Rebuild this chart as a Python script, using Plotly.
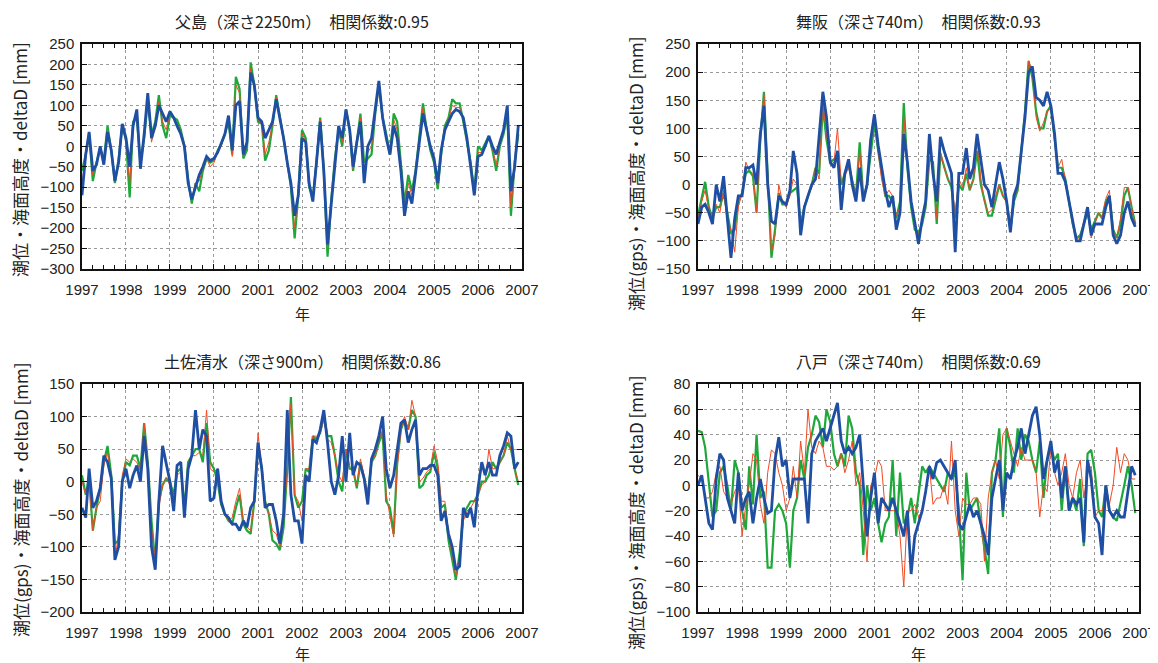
import plotly.graph_objects as go

# ---------------- data (monthly, Jan 1997 - Dec 2006) ----------------
years = list(range(1997, 2007))
months = [f"{y}-{m:02d}-01" for y in years for m in range(1, 13)]

titles = ["父島（深さ2250m）　相関係数:0.95", "舞阪（深さ740m）　相関係数:0.93",
          "土佐清水（深さ900m）　相関係数:0.86", "八戸（深さ740m）　相関係数:0.69"]
ytitles = ["潮位・海面高度・deltaD [mm]", "潮位(gps)・海面高度・deltaD [mm]",
           "潮位(gps)・海面高度・deltaD [mm]", "潮位(gps)・海面高度・deltaD [mm]"]
xtitle = "年"
yranges = [[-300, 250], [-150, 250], [-200, 150], [-100, 80]]
ydticks = [50, 50, 50, 20]

# 父島
chichijima_blue = [-120, -20, 35, -60, -45, 0, -45, 35, -10, -85, -40, 55,
                   20, -50, 50, 90, -55, 30, 130, 20, 50, 100, 80, 60,
                   85, 70, 50, 30, 0, -90, -130, -100, -70, -50, -25, -35,
                   -30, -15, 5, 30, 75, -10, 100, 110, -20, 10, 180, 150,
                   70, 60, 20, 40, 60, 115, 70, 20, -40, -90, -170, -120,
                   20, 10, -90, -135, -40, 60, -60, -240, -140, -40, 50, 20,
                   90, 40, -50, 10, 60, -90, 0, 20, 90, 160, 70, 20,
                   -20, 50, 20, -60, -170, -110, -140, -60, 10, 80, 40, 0,
                   -30, -90, -10, 40, 60, 80, 90, 85, 70, 20, -50, -120,
                   -25, -20, 0, 25, 0, -20, 10, 40, 100, -110, -50, 50]
chichijima_green = [-60, -20, 30, -85, -40, -5, -35, 50, -10, -90, -30, 50,
                    15, -125, 60, 70, -40, 20, 110, 30, 60, 125, 50, 20,
                    75, 70, 65, 40, 0, -80, -140, -90, -110, -60, -30, -40,
                    -35, -10, 5, 30, 60, -20, 170, 140, -30, -10, 205, 150,
                    60, 55, -35, -10, 50, 125, 75, 20, -40, -100, -225, -120,
                    40, 20, -100, -125, -40, 70, -60, -270, -130, -30, 40, 0,
                    90, 40, -60, 10, 80, -40, -30, -20, 80, 150, 70, 30,
                    -20, 80, 60, -50, -140, -70, -110, -60, 20, 105, 40, -10,
                    -40, -105, -20, 50, 70, 115, 105, 105, 60, 10, -40, -110,
                    0, -10, 5, 25, -10, -60, 0, 30, 80, -170, -40, 30]
chichijima_red = [-90, -20, 30, -70, -40, -5, -40, 40, -10, -80, -35, 45,
                  15, -90, 50, 75, -45, 20, 115, 10, 50, 110, 60, 40,
                  80, 65, 55, 35, 0, -80, -130, -90, -85, -55, -30, -50,
                  -40, -15, 0, 30, 65, -25, 150, 130, -25, 0, 190, 140,
                  65, 55, -20, 10, 55, 120, 70, 20, -40, -95, -200, -120,
                  30, 15, -95, -125, -40, 65, -60, -250, -135, -35, 45, 10,
                  85, 40, -55, 10, 70, -60, -15, 0, 85, 140, 70, 25,
                  -20, 65, 40, -55, -150, -90, -120, -60, 15, 95, 40, -5,
                  -35, -95, -15, 45, 65, 100, 95, 95, 70, 15, -45, -110,
                  -15, -15, 0, 25, -5, -45, 5, 35, 90, -150, -45, 40]

# 舞阪
maisaka_blue = [-70, -40, -35, -50, -70, 0, -30, 15, -60, -130, -60, -20,
                -20, 30, 30, 35, 0, 90, 140, 0, -65, -70, -20, -30,
                -35, -10, 60, 20, -90, -40, -20, 0, 10, 80, 165, 120,
                40, 30, 60, -45, 20, 45, 0, -30, 30, -30, 0, 80,
                125, 70, 30, -10, -40, -20, -80, -50, 90, 40, -30, -70,
                -105, -60, -30, 90, 20, -30, 85, 60, 40, 20, -120, 20,
                20, 65, 10, 30, 90, 40, 0, -10, -40, 0, 40, 10,
                -30, -85, -20, 0, 60, 120, 200, 210, 155, 150, 140, 165,
                140, 90, 20, 20, 5, -30, -60, -100, -100, -70, -40, -90,
                -70, -70, -70, -40, -20, -90, -105, -90, -50, -30, -60, -75]
maisaka_green = [-55, -20, 5, -40, -60, -40, -40, -15, -50, -85, -80, -30,
                 -15, 20, 25, 15, -50, 80, 165, 20, -130, -80, -15, -35,
                 -35, -15, -10, -5, -70, -40, -20, 0, 30, 20, 140, 80,
                 40, 45, 50, 0, 20, 35, 10, -20, 75, -25, 0, 60,
                 110, 60, 20, -20, -20, -30, -60, -30, 145, 30, -40, -80,
                 -85, -70, -40, 45, 40, -70, 55, 30, 10, -5, -60, 0,
                 -10, 20, -10, 10, 60, 0, -30, -55, -55, -30, 0, -20,
                 -30, -80, -30, -10, 60, 130, 220, 190, 130, 100, 100, 130,
                 140, 80, 30, 30, 10, -30, -70, -95, -90, -70, -50, -80,
                 -65, -50, -60, -30, -20, -80, -95, -70, -20, -5, -40, -70]
maisaka_red = [-60, -30, -10, -45, -65, -35, -50, -10, -65, -80, -120, -40,
               -15, 40, 25, 20, -50, 90, 160, 10, -120, -90, 0, -30,
               -40, -20, 10, 0, -80, -40, -20, -5, 30, 10, 150, 90,
               35, 40, 100, 5, 15, 30, 10, -25, 60, -25, -5, 70,
               120, 60, 10, -20, -10, -20, -55, -40, 120, 40, -30, -70,
               -90, -60, -40, 50, 40, -60, 60, 30, 10, 0, -50, 10,
               -5, 30, -10, 10, 80, 10, -30, -50, -45, -20, 0, -20,
               -30, -70, -20, -10, 60, 130, 220, 200, 120, 95, 110, 130,
               135, 80, 30, 45, 10, -30, -70, -95, -95, -65, -50, -95,
               -70, -50, -60, -25, -10, -85, -95, -60, -5, -5, -40, -75]

# 土佐清水
tosashimizu_blue = [-40, -55, 20, -40, -30, -10, 40, 30, 5, -120, -100, 0,
                    20, -10, 10, 25, 0, 70, 20, -100, -135, -30, 55, 30,
                    0, -45, 25, 30, -55, 20, 40, 110, 50, 80, 70, -30,
                    -25, 20, -30, -50, -55, -65, -65, -75, -60, -70, -40, -30,
                    60, 20, -40, -35, -35, -60, -95, -50, 110, -20, -60, -60,
                    -95, 10, 0, 65, 60, 80, 110, 60, 0, -20, 10, 70,
                    0, 75, 10, 30, 25, 5, -35, 35, 50, 70, 100, 20,
                    -10, 10, 50, 90, 95, 60, 80, 95, 10, 20, 20, 25,
                    25, 10, -60, -45, -80, -100, -135, -130, -40, -55, -40, -70,
                    -10, 30, 10, 30, 10, 10, 40, 55, 75, 70, 20, 30]
tosashimizu_green = [10, -20, 5, -75, -40, -10, 30, 55, 10, -95, -90, 0,
                     30, 25, 40, 40, 20, 90, 30, -60, -125, -30, -5, 5,
                     0, -20, 15, 20, -40, 30, 40, 50, 50, 30, 90, 30,
                     20, 0, -35, -50, -60, -65, -40, -20, -65, -75, -80, -30,
                     55, 20, -30, -50, -90, -95, -105, -70, 20, 130, -20, -40,
                     -30, 20, 15, 70, 65, 75, 100, 70, 70, 40, 0, -15,
                     50, 20, 20, -10, 30, 5, -20, 30, 40, 60, 75, -30,
                     -40, -80, 30, 80, 95, 80, 110, 100, -10, -5, 10, 15,
                     45, 20, -40, -35, -90, -120, -150, -110, -50, -40, -30, -30,
                     -20, 0, 0, 10, 30, 20, 30, 40, 60, 50, 20, -5]
tosashimizu_red = [0, -20, 0, -75, -40, -30, 25, 45, 0, -120, -80, 10,
                   35, 30, 35, 30, 15, 90, 30, -70, -120, -40, -5, 5,
                   -5, -25, 10, 15, -45, 25, 40, 40, 45, 40, 110, 20,
                   15, 20, -30, -50, -60, -55, -30, -10, -60, -70, -75, -30,
                   75, 25, -30, -50, -75, -80, -100, -60, 20, 120, -20, -30,
                   -60, 20, 20, 70, 70, 75, 95, 65, 60, 40, 10, 0,
                   50, 20, 15, -5, 35, 10, -20, 30, 40, 65, 80, -20,
                   -50, -85, 20, 80, 100, 80, 125, 100, 0, 5, 15, 20,
                   55, 30, -30, -30, -80, -110, -145, -120, -60, -45, -40, -30,
                   -20, -5, 0, 50, 20, 20, 30, 40, 70, 50, 20, 0]

# 八戸
hachinohe_blue = [0, 8, -10, -30, -35, 5, 25, 20, -10, -20, -30, 10,
                  -20, -10, -5, -30, -10, 5, -10, -22, -20, 20, 38, 15,
                  20, -10, 5, 5, 5, 5, -30, 25, 35, 40, 45, 35,
                  45, 55, 65, 35, 25, 30, 25, 30, 40, 0, -40, -10,
                  10, -30, -10, -15, -20, -10, -20, -30, -40, -20, -70, -40,
                  -30, -20, -5, 15, 5, 18, 20, 15, 10, 5, 20, -30,
                  -35, -25, -15, -25, -20, -30, -40, -55, -10, 5, 20, -20,
                  10, 5, 20, 30, 45, 25, 40, 55, 62, 40, 5, 20,
                  35, 10, 20, -10, 15, -20, -10, -15, -10, -45, 20, 5,
                  -25, -30, -55, 0, -20, -25, -20, -25, -25, -5, 15, 8]
hachinohe_green = [43, 42, 30, 0, -25, -20, 10, 15, 0, -20, 20, 10,
                   -20, -35, 15, -15, 40, -10, -5, -65, -65, -20, -15, -20,
                   -30, -65, -20, -10, 20, 5, 30, 40, 55, 50, 30, 60,
                   50, 25, 15, 25, 15, 55, 45, 10, 0, -55, 0, -20,
                   -10, -30, -45, -30, -25, 20, -40, 10, -30, -25, -10, -30,
                   -5, 15, 10, 15, 10, 5, 0, -5, 10, 5, 10, -20,
                   -75, 10, -20, -15, -10, -30, -50, -70, 10, 20, 45, -25,
                   45, 30, 10, 45, 20, 40, 35, 20, 10, 35, -10, 20,
                   30, 20, 25, -20, 15, -20, -10, -20, 5, -48, 25, 28,
                   10, -20, -25, 0, -20, -25, -28, -15, 0, 15, 0, -22]
hachinohe_red = [8, 5, -10, -10, -5, 10, 15, -5, -10, -15, -5, 0,
                 -40, -15, 0, 25, 20, -15, -30, 10, 28, 25, 10, 0,
                 -20, -10, 15, -10, 35, 10, 60, 30, 25, 35, 30, 15,
                 15, 12, 15, 25, 10, 20, 35, 0, 10, -20, -60, 0,
                 5, 20, 15, -20, -20, -20, -20, -40, -80, -20, -20, -15,
                 -25, -20, -5, 15, -15, -10, -10, 0, -15, 35, -20, -40,
                 -10, -15, -15, -10, -10, -15, -60, -10, 10, 20, 5, 40,
                 45, 35, 25, 15, 30, 20, 20, 20, 10, -25, 0, -5,
                 30, 10, 0, 10, 25, 0, -10, 10, 20, -10, 10, 15,
                 -25, -20, -20, -10, -15, 0, 30, 10, 25, 20, 5, 5]

panels = [
    (chichijima_green, chichijima_red, chichijima_blue),
    (maisaka_green, maisaka_red, maisaka_blue),
    (tosashimizu_green, tosashimizu_red, tosashimizu_blue),
    (hachinohe_green, hachinohe_red, hachinohe_blue),
]

# ---------------- layout geometry (screen pixels; page has an 8px body margin) ----------------
OFF = 8
W, H = 1158 - OFF, 663 - OFF
boxes = [(82, 522, 44, 269), (698, 1139, 44, 269),
         (82, 522, 384, 612), (698, 1139, 384, 612)]
ytitle_centers = [160, 174, 500, 513]


def px(x):
    return (x - OFF) / W


def py(y):
    return 1 - (y - OFF) / H


GREEN = "#1fa83a"
RED = "#f24a24"
BLUE = "#1f4fa3"
TICKFONT = dict(family="Liberation Sans, Arial, sans-serif", size=15, color="#222")
JPFONT = "Noto Sans CJK JP"

fig = go.Figure()
annotations = []
layout_axes = {}
for k, (g, r, b) in enumerate(panels):
    n = k + 1
    xa = "x" if n == 1 else f"x{n}"
    ya = "y" if n == 1 else f"y{n}"
    for vals, col, wdt in ((g, GREEN, 2.2), (r, RED, 1.0), (b, BLUE, 2.8)):
        fig.add_trace(go.Scatter(x=months, y=vals, mode="lines", xaxis=xa, yaxis=ya,
                                 line=dict(color=col, width=wdt), showlegend=False,
                                 hoverinfo="skip"))
    x0, x1, y0, y1 = boxes[k]
    common = dict(showline=True, linecolor="#111", linewidth=1.5, mirror="allticks",
                  ticks="inside", tickcolor="#111", ticklen=5, tickwidth=1,
                  showgrid=True, gridcolor="#9a9a9a", griddash="3px,3px", gridwidth=1,
                  zeroline=False, tickfont=TICKFONT, automargin=False,
                  ticklabeloverflow="allow")
    layout_axes["xaxis" if n == 1 else f"xaxis{n}"] = dict(
        common, type="date", domain=[px(x0), px(x1)], anchor=ya,
        range=["1997-01-01", "2007-01-01"], tick0="1997-01-01", dtick="M12",
        tickformat="%Y", ticklabelstandoff=6,
        minor=dict(ticks="inside", dtick="M3", ticklen=4, tickcolor="#111", showgrid=False))
    lo, hi = yranges[k]
    layout_axes["yaxis" if n == 1 else f"yaxis{n}"] = dict(
        common, domain=[py(y1), py(y0)], anchor=xa, range=[lo, hi], dtick=ydticks[k], tick0=0,
        ticklabelstandoff=3)
    cx = px((x0 + x1) / 2)
    annotations.append(dict(text=titles[k], x=cx, y=py(y0 - 23), xref="paper", yref="paper",
                            showarrow=False, xanchor="center", yanchor="middle",
                            font=dict(family=JPFONT, size=16, color="#222")))
    annotations.append(dict(text=xtitle, x=cx, y=py(min(y1 + 44, 653)), xref="paper", yref="paper",
                            showarrow=False, xanchor="center", yanchor="middle",
                            font=dict(family=JPFONT, size=15, color="#222")))
    annotations.append(dict(text=ytitles[k], x=px(x0 - 62), y=py(ytitle_centers[k]),
                            xref="paper", yref="paper", showarrow=False, textangle=-90,
                            xanchor="center", yanchor="middle",
                            font=dict(family=JPFONT, size=17, color="#222")))

fig.update_layout(width=W, height=H, margin=dict(l=0, r=0, t=0, b=0, autoexpand=False),
                  plot_bgcolor="white", paper_bgcolor="white",
                  annotations=annotations, **layout_axes)
fig.write_html("out.html")
